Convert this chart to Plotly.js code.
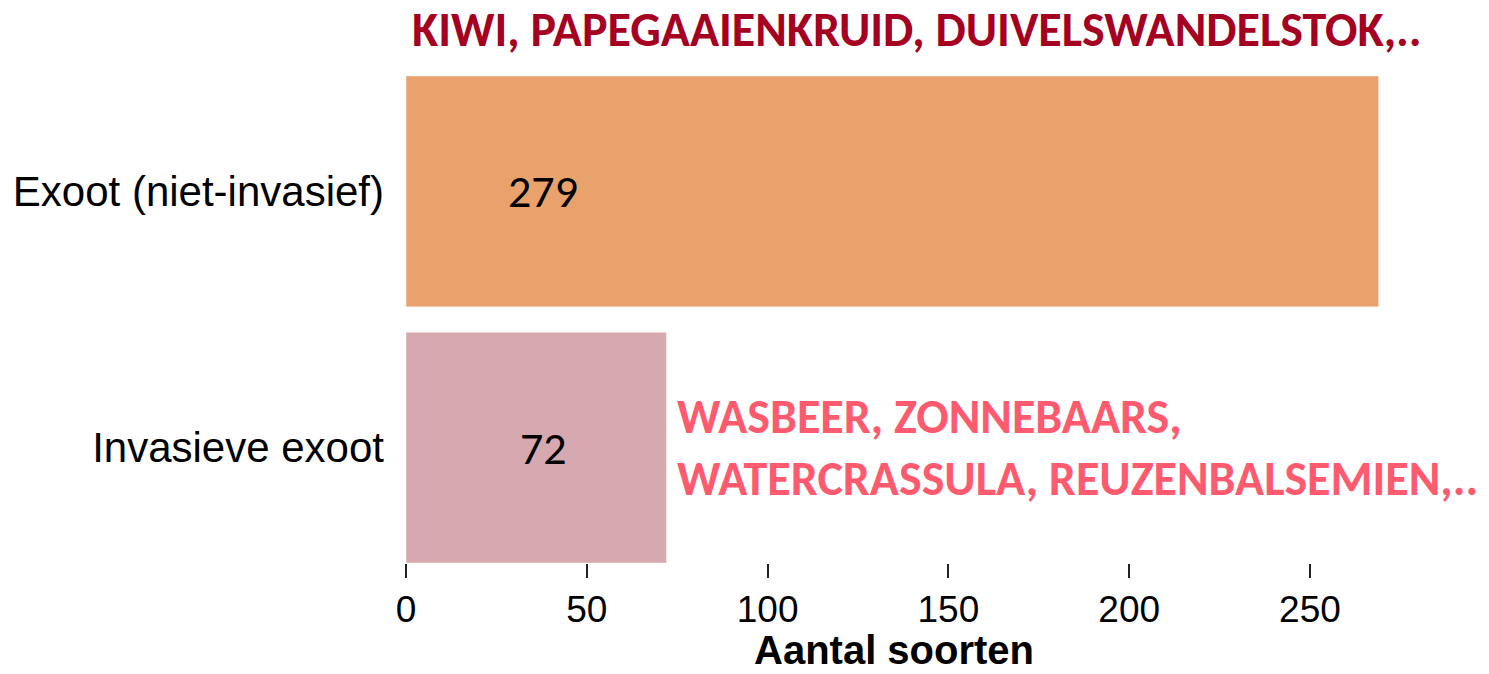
<!DOCTYPE html>
<html>
<head>
<meta charset="utf-8">
<script src="https://cdn.plot.ly/plotly-3.0.1.min.js"></script>
<style>
html,body{margin:0;padding:0;background:#fff;}
#chart{width:1489px;height:674px;}
</style>
</head>
<body>
<div id="chart"></div>
<script>
// ---- data ----
const categories = ["Exoot (niet-invasief)", "Invasieve exoot"];
const counts = [269, 72];
const valueLabels = ["279", "72"];
const barColors = ["#E9A26B", "#D6A8B0"];
const xTicks = [0, 50, 100, 150, 200, 250];
const xTitle = "Aantal soorten";
const noteTop = "KIWI, PAPEGAAIENKRUID, DUIVELSWANDELSTOK,..";
const noteInvasive = "WASBEER, ZONNEBAARS,<br>WATERCRASSULA, REUZENBALSEMIEN,..";

const trace = {
  type: "bar",
  orientation: "h",
  y: categories,
  x: counts,
  width: 0.9,
  marker: {color: barColors, line: {color: "rgba(255,230,220,0.6)", width: 1}},
  hoverinfo: "skip"
};

const labelX = 38;
const noteFont = "Carlito, Calibri, Lato, 'Open Sans', sans-serif";
const arial = "'Liberation Sans', Arial, sans-serif";

const layout = {
  width: 1489, height: 674,
  margin: {l: 406, r: 29, t: 76, b: 111, pad: 0},
  paper_bgcolor: "#fff", plot_bgcolor: "#fff",
  showlegend: false,
  bargap: 0,
  xaxis: {
    range: [0, 291.5],
    tickvals: xTicks,
    ticktext: xTicks.map(String),
    ticks: "outside", ticklen: 14, tickwidth: 2, tickcolor: "#222",
    showgrid: false, zeroline: false, showline: false,
    tickfont: {family: arial, size: 37, color: "#000"}
  },
  yaxis: {
    type: "category",
    range: [1.45, -0.45],
    showgrid: false, zeroline: false, showline: false,
    ticks: "", ticklabelstandoff: 21,
    tickfont: {family: arial, size: 42, color: "#000"}
  },
  annotations: [
    {x: labelX, y: categories[0], xref: "x", yref: "y", text: valueLabels[0], showarrow: false,
     font: {family: noteFont, size: 46, color: "#000"}},
    {x: labelX, y: categories[1], xref: "x", yref: "y", text: valueLabels[1], showarrow: false,
     font: {family: noteFont, size: 46, color: "#000"}},
    {x: 0.463, y: 0, xref: "paper", yref: "paper", xanchor: "center", yanchor: "bottom", yshift: -110,
     text: "<b>" + xTitle + "</b>", showarrow: false, borderpad: 0,
     font: {family: arial, size: 40, color: "#000"}},
    {x: 0.485, y: 1, xref: "paper", yref: "paper", xanchor: "center", yanchor: "middle", yshift: 47,
     text: "<b>" + noteTop + "</b>", showarrow: false,
     font: {family: noteFont, size: 48, color: "#A50021"}},
    {x: 74.5, y: categories[1], xref: "x", yref: "y", xanchor: "left", yanchor: "middle", align: "left",
     text: "<b>" + noteInvasive + "</b>", showarrow: false,
     font: {family: noteFont, size: 48, color: "#FF5A6E"}}
  ]
};

Plotly.newPlot("chart", [trace], layout, {staticPlot: true, displayModeBar: false});
</script>
</body>
</html>
